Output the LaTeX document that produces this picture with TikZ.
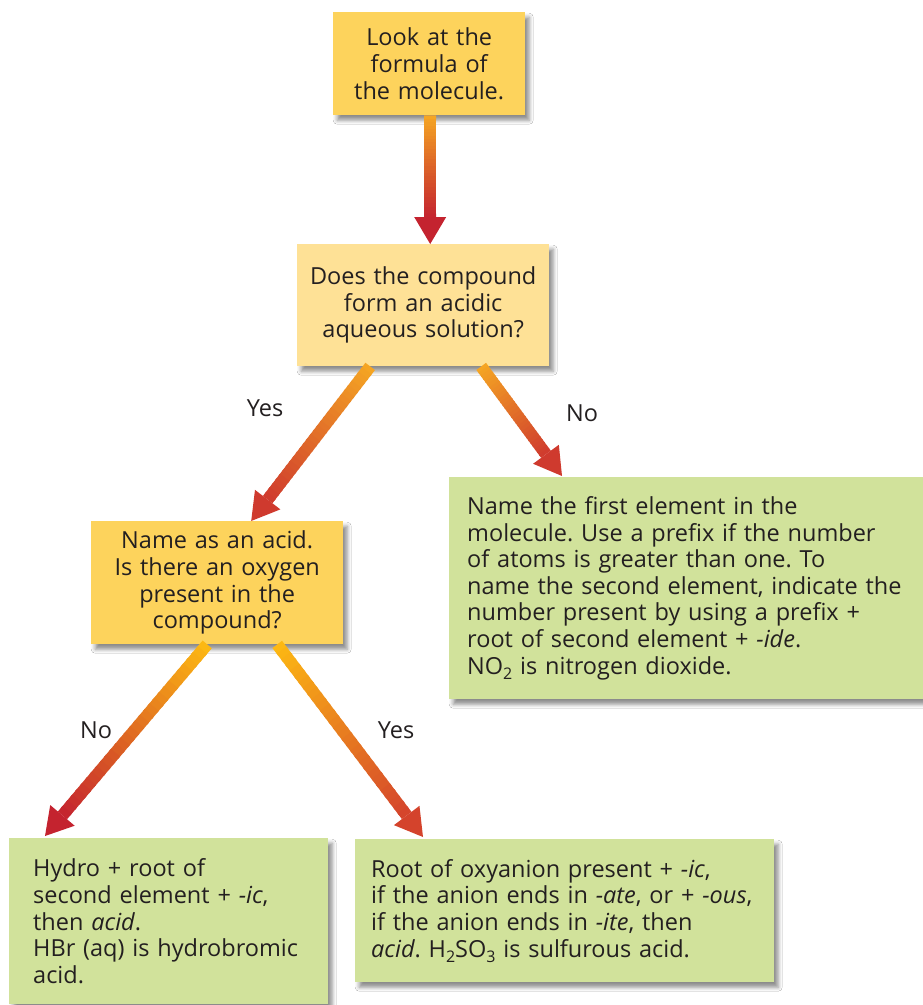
\documentclass[tikz,border=0pt]{standalone}
\usepackage{fontspec}
\setmainfont{Open Sans}
\frenchspacing
\usetikzlibrary{calc,shadows,shadows.blur}
\definecolor{txt}{HTML}{231F20}
\definecolor{gold}{HTML}{FDD35C}
\definecolor{pale}{HTML}{FEE196}
\definecolor{leaf}{HTML}{D1E29B}
\definecolor{orA}{HTML}{F5A623}
\definecolor{yeA}{HTML}{FDB913}
\definecolor{redA}{HTML}{C4232F}
\definecolor{redB}{HTML}{CF3A2E}
\definecolor{redC}{HTML}{D4432C}
\newcommand\mysub[1]{\raisebox{-0.4ex}{\fontsize{16}{16}\selectfont #1}}
\newcommand\gradarrow[4]{%
  \coordinate (ga-base) at ($(#2)!27pt!(#1)$);
  \foreach \i in {0,...,29}{%
    \pgfmathsetmacro\ta{\i/30}%
    \pgfmathsetmacro\tb{min((\i+1.4)/30,1)}%
    \pgfmathtruncatemacro\pc{100*(\i+0.5)/30}%
    \draw[line width=12pt, #4!\pc!#3] ($(#1)!\ta!(ga-base)$) -- ($(#1)!\tb!(ga-base)$);
  }%
  \fill[#4] (#2) -- ($(ga-base)!16pt!90:(#2)$) -- ($(ga-base)!16pt!-90:(#2)$) -- cycle;
}
\tikzset{
  box/.style={anchor=north west, inner ysep=0pt, text=txt,
    font=\fontsize{23.5}{26.6}\selectfont,
    blur shadow={shadow xshift=4pt, shadow yshift=-5pt, shadow blur radius=4pt, shadow opacity=45}},
  lbl/.style={text=txt, font=\fontsize{23.5}{26}\selectfont, inner sep=0pt}
}
\begin{document}
\begin{tikzpicture}[x=1pt,y=-1pt]
\useasboundingbox[fill=white] (0,0) rectangle (923,1005);
% boxes
\node[box, fill=gold, inner xsep=0pt, minimum width=192pt, minimum height=103pt, text width=192pt, align=center] (b1) at (333,12)
  {Look at the\\formula of\\the molecule.};
\node[box, fill=pale, inner xsep=0pt, minimum width=252pt, minimum height=122pt, text width=252pt, align=center] (b2) at (297,244)
  {Does the compound\\form an acidic\\aqueous solution?};
\node[box, fill=gold, inner xsep=0pt, minimum width=252pt, minimum height=123pt, text width=252pt, align=center] (b3) at (91,521)
  {Name as an acid.\\Is there an oxygen\\present in the\\compound?};
\node[box, fill=leaf, inner xsep=18pt, minimum width=492pt, minimum height=222pt, text width=456pt, align=left] (b4) at (449,477)
  {Name the first element in the\\
   molecule. Use a prefix if the number\\
   of atoms is greater than one. To\\
   name the second element, indicate the\\
   number present by using a prefix +\\
   root of second element + \textit{-ide}.\\
   NO\mysub{2} is nitrogen dioxide.};
\node[box, fill=leaf, inner xsep=24pt, minimum width=319pt, minimum height=166pt, text width=271pt, align=left] (b5) at (9,838)
  {Hydro + root of\\
   second element + \textit{-ic},\\
   then \textit{acid}.\\
   HBr (aq) is hydrobromic\\
   acid.};
\node[box, fill=leaf, inner xsep=16pt, minimum width=419pt, minimum height=143pt, text width=387pt, align=left] (b6) at (355,839)
  {Root of oxyanion present + \textit{-ic},\\
   if the anion ends in \textit{-ate}, or + \textit{-ous},\\
   if the anion ends in \textit{-ite}, then\\
   \textit{acid}. H\mysub{2}SO\mysub{3} is sulfurous acid.};
% arrow end points
\coordinate (s1) at ($(b1.south)+(1,0)$);
\coordinate (t1) at ($(b2.north)+(7,0)$);
\coordinate (s2) at ($(b2.south)+(-53,0)$);
\coordinate (t2) at ($(b3.north)+(34,0)$);
\coordinate (s3) at ($(b2.south)+(58,0)$);
\coordinate (t3) at ($(b4.north west)+(113,-1)$);
\coordinate (s4) at ($(b3.south)+(-10,0)$);
\coordinate (t4) at ($(b5.north west)+(36,-2)$);
\coordinate (s5) at ($(b3.south)+(60,0)$);
\coordinate (t5) at ($(b6.north west)+(68,-2)$);
\gradarrow{s1}{t1}{orA}{redA}
\gradarrow{s2}{t2}{orA}{redB}
\gradarrow{s3}{t3}{orA}{redB}
\gradarrow{s4}{t4}{yeA}{redA}
\gradarrow{s5}{t5}{yeA}{redC}
% labels
\node[lbl] (l1) at (265,408) {Yes};
\node[lbl] (l2) at (582,413) {No};
\node[lbl] (l3) at (96,730) {No};
\node[lbl] (l4) at (396,730) {Yes};
\end{tikzpicture}
\end{document}
